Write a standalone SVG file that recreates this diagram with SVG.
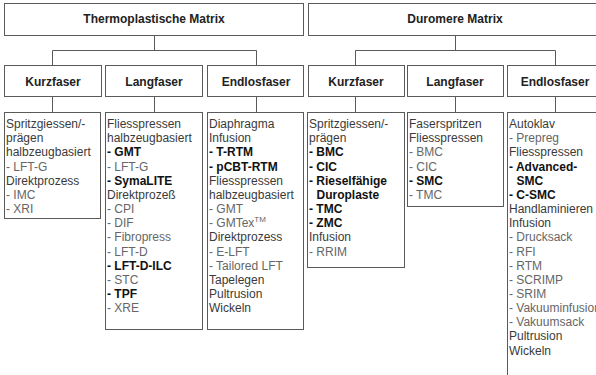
<svg xmlns="http://www.w3.org/2000/svg" width="596" height="375" viewBox="0 0 596 375">
<style>
rect{fill:#fff;stroke:#5a5a5a;stroke-width:1}
#connectors path{fill:none;stroke:#5a5a5a;stroke-width:1}
text{font-family:"Liberation Sans",Arial,sans-serif;font-size:12px}
.t{font-weight:bold;fill:#222;text-anchor:middle}
.h{fill:#3a3a3a}
.s{fill:#666}
.b{fill:#111;font-weight:bold}
</style>
<rect x="0" y="0" width="596" height="375" style="fill:#fff;stroke:none"/>
<g id="connectors">
<path d="M154.5 35.5V50.5M52.5 65.5V50.5H256.5V65.5"/>
<path d="M455.5 35.5V50.5M355.5 65.5V50.5H555.5V65.5"/>
<path d="M52.5 96.5V112.5M154.5 96.5V112.5M256.5 96.5V112.5M355.5 96.5V112.5M455.5 96.5V112.5M555.5 96.5V112.5"/>
</g>
<g id="thermo">
<rect x="4.5" y="3.5" width="299" height="32"/>
<text class="t" x="154" y="22.5">Thermoplastische Matrix</text>
</g>
<g id="duro">
<rect x="308.5" y="3.5" width="295" height="32"/>
<text class="t" x="455" y="22.5">Duromere Matrix</text>
</g>
<g id="t-kurz">
<rect x="4.5" y="65.5" width="97" height="31"/>
<text class="t" x="53" y="85.5">Kurzfaser</text>
</g>
<g id="t-lang">
<rect x="105.5" y="65.5" width="97" height="31"/>
<text class="t" x="154" y="85.5">Langfaser</text>
</g>
<g id="t-endlos">
<rect x="207.5" y="65.5" width="96" height="31"/>
<text class="t" x="256" y="85.5">Endlosfaser</text>
</g>
<g id="d-kurz">
<rect x="308.5" y="65.5" width="96" height="31"/>
<text class="t" x="356" y="85.5">Kurzfaser</text>
</g>
<g id="d-lang">
<rect x="407.5" y="65.5" width="96" height="31"/>
<text class="t" x="455" y="85.5">Langfaser</text>
</g>
<g id="d-endlos">
<rect x="507.5" y="65.5" width="96" height="31"/>
<text class="t" x="555" y="85.5">Endlosfaser</text>
</g>
<g id="t-kurz-list">
<rect x="4.5" y="112.5" width="96" height="106"/>
<text x="6" y="128" class="h">Spritzgiessen/-</text>
<text x="6" y="142" class="h">prägen</text>
<text x="6" y="156" class="h">halbzeugbasiert</text>
<text x="6" y="170.5" class="s">- LFT-G</text>
<text x="6" y="184.5" class="h">Direktprozess</text>
<text x="6" y="199" class="s">- IMC</text>
<text x="6" y="213" class="s">- XRI</text>
</g>
<g id="t-lang-list">
<rect x="105.5" y="112.5" width="97" height="217"/>
<text x="107" y="128" class="h">Fliesspressen</text>
<text x="107" y="142" class="h">halbzeugbasiert</text>
<text x="107" y="156" class="b">- GMT</text>
<text x="107" y="170.5" class="s">- LFT-G</text>
<text x="107" y="184.5" class="b">- SymaLITE</text>
<text x="107" y="199" class="h">Direktprozeß</text>
<text x="107" y="213" class="s">- CPI</text>
<text x="107" y="227" class="s">- DIF</text>
<text x="107" y="241" class="s">- Fibropress</text>
<text x="107" y="255.5" class="s">- LFT-D</text>
<text x="107" y="269.5" class="b">- LFT-D-ILC</text>
<text x="107" y="283.5" class="s">- STC</text>
<text x="107" y="298" class="b">- TPF</text>
<text x="107" y="312" class="s">- XRE</text>
</g>
<g id="t-endlos-list">
<rect x="207.5" y="112.5" width="96" height="217"/>
<text x="209" y="128" class="h">Diaphragma</text>
<text x="209" y="142" class="h">Infusion</text>
<text x="209" y="156" class="b">- T-RTM</text>
<text x="209" y="170.5" class="b">- pCBT-RTM</text>
<text x="209" y="184.5" class="h">Fliesspressen</text>
<text x="209" y="199" class="h">halbzeugbasiert</text>
<text x="209" y="213" class="s">- GMT</text>
<text x="209" y="227" class="s">- GMTex<tspan dy="-5" font-size="8">TM</tspan></text>
<text x="209" y="241" class="h">Direktprozess</text>
<text x="209" y="255.5" class="s">- E-LFT</text>
<text x="209" y="269.5" class="s">- Tailored LFT</text>
<text x="209" y="283.5" class="h">Tapelegen</text>
<text x="209" y="298" class="h">Pultrusion</text>
<text x="209" y="312" class="h">Wickeln</text>
</g>
<g id="d-kurz-list">
<rect x="307.5" y="112.5" width="97" height="155"/>
<text x="309" y="128" class="h">Spritzgiessen/-</text>
<text x="309" y="142" class="h">prägen</text>
<text x="309" y="156" class="b">- BMC</text>
<text x="309" y="170.5" class="b">- CIC</text>
<text x="309" y="184.5" class="b">- Rieselfähige</text>
<text x="316.5" y="199" class="b">Duroplaste</text>
<text x="309" y="213" class="b">- TMC</text>
<text x="309" y="227" class="b">- ZMC</text>
<text x="309" y="241" class="h">Infusion</text>
<text x="309" y="255.5" class="s">- RRIM</text>
</g>
<g id="d-lang-list">
<rect x="407.5" y="112.5" width="96" height="94"/>
<text x="409" y="128" class="h">Faserspritzen</text>
<text x="409" y="142" class="h">Fliesspressen</text>
<text x="409" y="156" class="s">- BMC</text>
<text x="409" y="170.5" class="s">- CIC</text>
<text x="409" y="184.5" class="b">- SMC</text>
<text x="409" y="199" class="s">- TMC</text>
</g>
<g id="d-endlos-list">
<rect x="507.5" y="112.5" width="96" height="275"/>
<text x="509" y="128" class="h">Autoklav</text>
<text x="509" y="142" class="s">- Prepreg</text>
<text x="509" y="156" class="h">Fliesspressen</text>
<text x="509" y="170.5" class="b">- Advanced-</text>
<text x="516.5" y="184.5" class="b">SMC</text>
<text x="509" y="199" class="b">- C-SMC</text>
<text x="509" y="213" class="h">Handlaminieren</text>
<text x="509" y="227" class="h">Infusion</text>
<text x="509" y="241" class="s">- Drucksack</text>
<text x="509" y="255.5" class="s">- RFI</text>
<text x="509" y="269.5" class="s">- RTM</text>
<text x="509" y="283.5" class="s">- SCRIMP</text>
<text x="509" y="298" class="s">- SRIM</text>
<text x="509" y="312" class="s">- Vakuuminfusion</text>
<text x="509" y="326" class="s">- Vakuumsack</text>
<text x="509" y="340" class="h">Pultrusion</text>
<text x="509" y="354.5" class="h">Wickeln</text>
</g>
</svg>
